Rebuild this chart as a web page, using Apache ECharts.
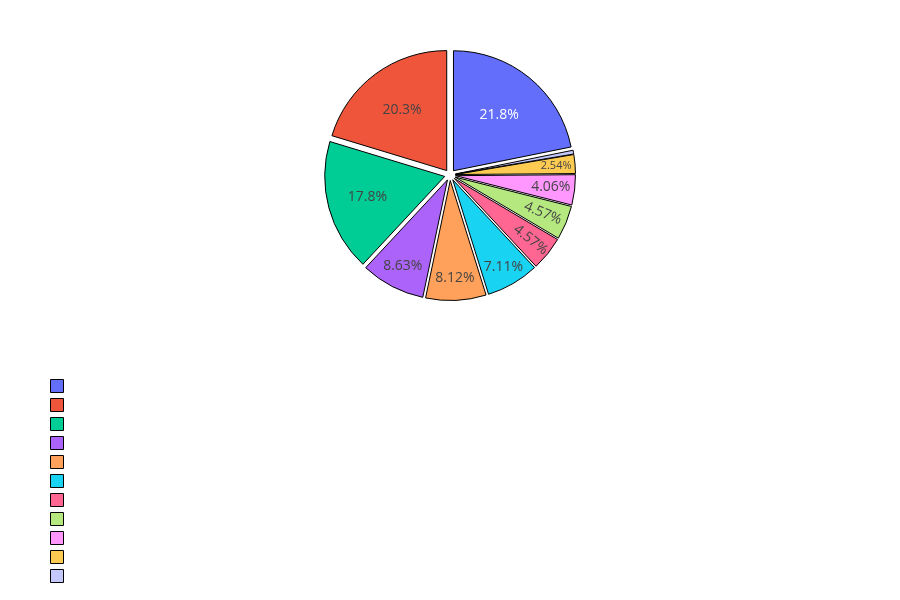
<!DOCTYPE html>
<html><head><meta charset="utf-8">
<script src="https://cdn.jsdelivr.net/npm/echarts@6/dist/echarts.min.js"></script>
<style>html,body{margin:0;padding:0;background:#fff}#c{width:900px;height:600px}</style>
</head><body><div id="c"></div>
<script>
// ---- data ----
const categories = ['Category 1','Category 2','Category 3','Category 4','Category 5','Category 6','Category 7','Category 8','Category 9','Category 10','Category 11'];
const values = [43, 40, 35, 17, 16, 14, 9, 9, 8, 5, 1];

// ---- style ----
const COLORS = ['#636efa','#EF553B','#00cc96','#ab63fa','#FFA15A','#19d3f3','#FF6692','#B6E880','#FF97FF','#FECB52','#c5c8fc'];
const PULL = 5.5;
const LABEL_R = [69, 72, 77, 94, 95, 98, 95, 92, 93, 98, 0];
const LABEL_ROT = [0,0,0,0,0,0,'radial','radial',0,0,0];
const LABEL_SIZE = [14,14,14,14,14,14,14,14,14,11,0];
const LABEL_COLOR = ['#fff','#444','#444','#444','#444','#444','#444','#444','#444','#444','#444'];
const CENTER = [450, 175];
const R = 120;

const total = values.reduce((a, b) => a + b, 0);
const pct = v => (v / total * 100).toPrecision(3) + '%';
const startAngle = 90 - values[0] / total * 360;

const base = {
  type: 'pie', center: CENTER, startAngle: startAngle, clockwise: false,
  selectedMode: 'multiple', selectedOffset: PULL, avoidLabelOverlap: false, minAngle: 0,
  emphasis: { disabled: true }, animation: false, labelLine: { show: false }
};

const series = [];
series.push(Object.assign({}, base, {
  name: 'main', radius: R, label: { show: false },
  data: categories.map((n, i) => ({
    name: n, value: values[i], selected: true,
    itemStyle: { color: COLORS[i], borderColor: '#000', borderWidth: 1 },
    select: { itemStyle: { color: COLORS[i], borderColor: '#000', borderWidth: 1 } }
  }))
}));

categories.forEach((_, k) => {
  if (!LABEL_SIZE[k]) return;
  series.push(Object.assign({}, base, {
    name: 'label' + k, radius: [2 * LABEL_R[k] - R, R], silent: true,
    data: categories.map((n, i) => ({
      name: n, value: values[i], selected: true,
      itemStyle: { color: 'rgba(0,0,0,0)', borderWidth: 0 },
      select: { itemStyle: { color: 'rgba(0,0,0,0)', borderWidth: 0 } },
      label: {
        show: i === k,
        position: 'inside', formatter: pct(values[i]),
        rotate: LABEL_ROT[i], fontSize: LABEL_SIZE[i] || 12,
        color: LABEL_COLOR[i], fontFamily: '"Open Sans", sans-serif'
      }
    }))
  }));
});

const chart = echarts.init(document.getElementById('c'), null, { renderer: 'canvas' });
chart.setOption({
  animation: false,
  backgroundColor: '#fff',
  legend: {
    orient: 'vertical', left: 50, top: 379, padding: 0,
    itemWidth: 13, itemHeight: 13, itemGap: 5, icon: 'rect',
    selectedMode: false, height: 215,
    data: categories.map((n, i) => ({ name: n, itemStyle: { color: COLORS[i], borderColor: '#000', borderWidth: 1 } })),
    formatter: () => '',
    textStyle: { fontSize: 10, lineHeight: 13 },
    itemStyle: { borderColor: '#000', borderWidth: 1 }
  },
  series: series
});
</script></body></html>
